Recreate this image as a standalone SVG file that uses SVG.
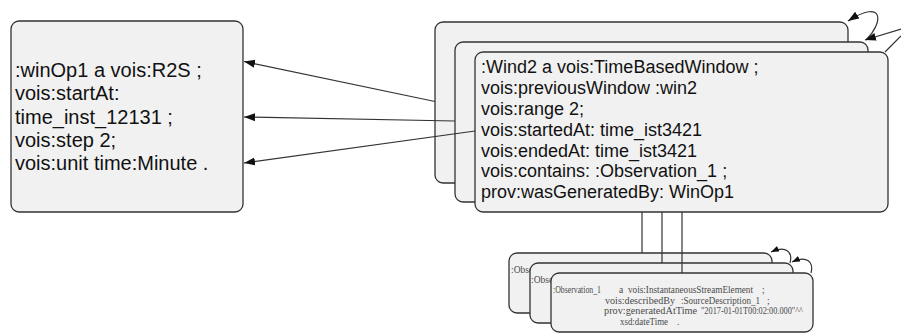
<svg xmlns="http://www.w3.org/2000/svg" width="901" height="333" viewBox="0 0 901 333">
<style>
.box{fill:#f1f1f1;stroke:#333;stroke-width:1.3}
.lt{font-family:"Liberation Sans",Arial,sans-serif;font-size:20px;fill:#111}
.wt{font-family:"Liberation Sans",Arial,sans-serif;font-size:18px;fill:#111}
.ot{font-family:"Liberation Serif","Times New Roman",serif;font-size:9.5px;fill:#4a4a4a}
.ln{fill:none;stroke:#333;stroke-width:1.2}
</style>
<defs>
<marker id="ah" markerUnits="userSpaceOnUse" markerWidth="12" markerHeight="10" refX="11" refY="4" orient="auto">
<path d="M0,0 L11,4 L0,8 Z" fill="#111"/>
</marker>
<marker id="ahs" markerUnits="userSpaceOnUse" markerWidth="9" markerHeight="8" refX="8" refY="3" orient="auto">
<path d="M0,0 L8,3 L0,6 Z" fill="#111"/>
</marker>
</defs>
<rect width="901" height="333" fill="#fff"/>

<g id="winOp1">
<rect class="box" x="11" y="21" width="232" height="191" rx="8"/>
<text class="lt" x="15" y="77">:winOp1 a vois:R2S ;</text>
<text class="lt" x="15" y="100.3">vois:startAt:</text>
<text class="lt" x="15" y="123.6">time_inst_12131 ;</text>
<text class="lt" x="15" y="147">vois:step 2;</text>
<text class="lt" x="15" y="170">vois:unit time:Minute .</text>
</g>

<g id="window1">
<rect class="box" x="435" y="22" width="413" height="161" rx="8"/>
</g>
<g id="window2">
<rect class="box" x="455" y="42" width="413" height="160" rx="8"/>
</g>
<g id="window3">
<rect class="box" x="475" y="52" width="413" height="160" rx="8"/>
<text class="wt" x="481" y="73">:Wind2 a vois:TimeBasedWindow ;</text>
<text class="wt" x="481" y="94">vois:previousWindow :win2</text>
<text class="wt" x="481" y="115">vois:range 2;</text>
<text class="wt" x="481" y="136">vois:startedAt: time_ist3421</text>
<text class="wt" x="481" y="156.5">vois:endedAt: time_ist3421</text>
<text class="wt" x="481" y="177">vois:contains: :Observation_1 ;</text>
<text class="wt" x="481" y="198">prov:wasGeneratedBy: WinOp1</text>
</g>

<g id="observation1">
<rect class="box" x="509" y="253" width="263" height="60" rx="8"/>
<text class="ot" x="511" y="273">:Observation_1</text>
</g>
<g id="observation2">
<rect class="box" x="530" y="263" width="263" height="60" rx="8"/>
<text class="ot" x="531" y="283">:Observation_1</text>
</g>
<g id="observation3">
<rect class="box" x="551" y="273" width="262" height="59" rx="8"/>
<text class="ot" y="293"><tspan x="553" textLength="48" lengthAdjust="spacingAndGlyphs">:Observation_1</tspan><tspan x="619">a</tspan><tspan x="628" textLength="125" lengthAdjust="spacingAndGlyphs">vois:InstantaneousStreamElement</tspan><tspan x="762">;</tspan></text>
<text class="ot" y="303.5"><tspan x="605" textLength="70" lengthAdjust="spacingAndGlyphs">vois:describedBy</tspan><tspan x="681" textLength="79" lengthAdjust="spacingAndGlyphs">:SourceDescription_1</tspan><tspan x="767">;</tspan></text>
<text class="ot" y="314"><tspan x="604" textLength="93" lengthAdjust="spacingAndGlyphs">prov:generatedAtTime</tspan><tspan x="701" textLength="102" lengthAdjust="spacingAndGlyphs">"2017-01-01T00:02:00.000"^^</tspan></text>
<text class="ot" y="324.5"><tspan x="620" textLength="48" lengthAdjust="spacingAndGlyphs">xsd:dateTime</tspan><tspan x="677">.</tspan></text>
</g>

<g id="connectors">
<line class="ln" x1="435" y1="101.5" x2="244" y2="61.5" marker-end="url(#ah)"/>
<line class="ln" x1="455" y1="121" x2="244" y2="117" marker-end="url(#ah)"/>
<line class="ln" x1="475" y1="131" x2="244" y2="163" marker-end="url(#ah)"/>
<path class="ln" d="M866,40 C884,22 884,-2 848,21" marker-end="url(#ah)"/>
<line class="ln" x1="901" y1="29" x2="865" y2="40" marker-end="url(#ah)"/>
<line class="ln" x1="885" y1="52" x2="901" y2="36"/>
<line class="ln" x1="642" y1="212" x2="642" y2="253"/>
<line class="ln" x1="662" y1="212" x2="662" y2="263"/>
<line class="ln" x1="682" y1="212" x2="682" y2="273"/>
<path class="ln" d="M790,263 C793,252 786,245 771,252" marker-end="url(#ahs)"/>
<path class="ln" d="M811,273 C814,262 807,255 792,262" marker-end="url(#ahs)"/>
</g>
</svg>
